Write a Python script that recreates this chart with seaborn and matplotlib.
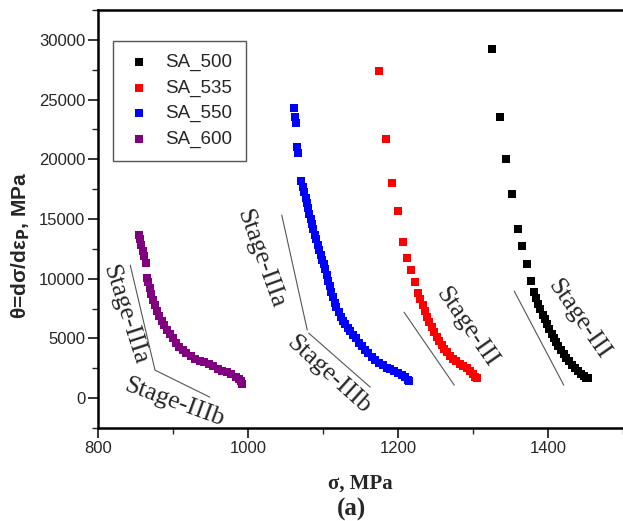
import numpy as np
import pandas as pd
import matplotlib
matplotlib.use("Agg")
import matplotlib.pyplot as plt
from matplotlib.ticker import MultipleLocator
import seaborn as sns

# -----------------------------
# Data (sigma in MPa, theta in MPa)
# -----------------------------
sa500_x = [1325, 1336, 1344, 1352, 1360, 1366, 1372, 1377, 1381, 1384, 1387, 1390,
           1393, 1396, 1399, 1402, 1405, 1408, 1411, 1414, 1417, 1421, 1424, 1428,
           1432, 1436, 1440, 1444, 1448, 1451, 1453]
sa500_y = [29200, 23500, 20000, 17100, 14200, 12700, 11200, 9800, 8900, 8400, 7900, 7500,
           7000, 6600, 6200, 5800, 5400, 5000, 4700, 4350, 4000, 3700, 3400, 3100,
           2800, 2550, 2300, 2050, 1850, 1700, 1650]

sa535_x = [1175, 1184, 1192, 1200, 1207, 1212, 1218, 1223, 1227, 1230, 1233, 1236,
           1239, 1242, 1245, 1248, 1252, 1255, 1259, 1262, 1266, 1270, 1274, 1278,
           1283, 1287, 1292, 1296, 1300, 1303, 1305]
sa535_y = [27400, 21700, 18000, 15700, 13100, 11700, 10700, 9700, 8800, 8300, 7800, 7300,
           6800, 6350, 5950, 5550, 5150, 4800, 4450, 4150, 3850, 3550, 3300, 3100,
           2900, 2700, 2500, 2250, 2000, 1800, 1650]

sa550_x = [1061, 1063, 1064, 1066, 1067, 1071, 1073, 1075, 1078, 1079, 1080, 1082,
           1084, 1086, 1087, 1089, 1091, 1093, 1095, 1097, 1099, 1101, 1103, 1105,
           1107, 1109, 1111, 1113, 1116, 1118, 1121, 1124, 1127, 1130, 1133, 1136,
           1140, 1144, 1148, 1152, 1156, 1160, 1165, 1170, 1175, 1180, 1185, 1190,
           1195, 1200, 1205, 1210, 1213, 1215]
sa550_y = [24300, 23500, 23000, 21000, 20500, 18200, 17700, 17300, 16800, 16300, 15900, 15400,
           15000, 14600, 14200, 13700, 13300, 12800, 12400, 12000, 11600, 11200, 10800, 10300,
           9800, 9400, 8900, 8500, 8000, 7600, 7200, 6800, 6500, 6200, 5900, 5600,
           5300, 5000, 4650, 4350, 4050, 3750, 3450, 3200, 2950, 2750, 2550, 2400,
           2250, 2100, 1950, 1750, 1550, 1400]

sa600_x = [855, 856, 858, 860, 862, 864, 866, 867, 869, 871, 873, 876, 879, 882, 885,
           888, 892, 896, 900, 904, 908, 913, 918, 924, 930, 936, 942, 948, 954, 960,
           966, 972, 978, 984, 988, 991, 992]
sa600_y = [13700, 13300, 12800, 12300, 11900, 11300, 10100, 9700, 9200, 8700, 8200, 7800,
           7300, 6900, 6500, 6100, 5700, 5350, 5000, 4650, 4300, 4000, 3750, 3500, 3300,
           3150, 3000, 2850, 2650, 2450, 2300, 2150, 2000, 1800, 1600, 1400, 1200]

series_names = ["SA_500", "SA_535", "SA_550", "SA_600"]
series_colors = ["#000000", "#ff0000", "#0000ff", "#800080"]

# stage guide lines (x list, y list) and labels (x, y, text, rotation)
guide_lines = [
    ([843, 876, 949], [11140, 2345, 84]),
    ([1045, 1079], [15330, 5700]),
    ([1081, 1163], [5440, 920]),
    ([1208, 1275], [7200, 1090]),
    ([1355, 1421], [8960, 1090]),
]
stage_labels = [
    (836, 6950, "Stage-IIIa", -72),
    (901, -350, "Stage-IIIb", -20),
    (1017, 11640, "Stage-IIIa", -70),
    (1108, 1930, "Stage-IIIb", -42),
    (1292, 5950, "Stage-III", -55),
    (1441, 6620, "Stage-III", -55),
]

# -----------------------------
# Build long table
# -----------------------------
frames = []
for name, xs, ys in zip(series_names,
                        [sa500_x, sa535_x, sa550_x, sa600_x],
                        [sa500_y, sa535_y, sa550_y, sa600_y]):
    frames.append(pd.DataFrame({"sigma": xs, "theta": ys, "sample": name}))
df = pd.concat(frames, ignore_index=True)

# -----------------------------
# Plot
# -----------------------------
sns.set_style("ticks")
plt.rcParams["font.family"] = ["Liberation Sans", "DejaVu Sans"]
serif = ["Liberation Serif", "DejaVu Serif"]

fig = plt.figure(figsize=(6.23, 5.21), dpi=100)
ax = fig.add_axes([0.1573, 0.1785, 0.8427, 0.8023])

for name, color in zip(series_names, series_colors):
    sub = df[df["sample"] == name]
    sns.scatterplot(data=sub, x="sigma", y="theta", color=color, marker="s",
                    s=40, linewidth=0, label=name, ax=ax)

for xs, ys in guide_lines:
    ax.plot(xs, ys, color="#555555", lw=0.8)

for x, y, txt, rot in stage_labels:
    ax.text(x, y, txt, rotation=rot, rotation_mode="anchor", ha="center", va="center",
            fontsize=18.5, family=serif)

ax.set_xlim(800, 1500)
ax.set_ylim(-2500, 32500)
ax.xaxis.set_major_locator(MultipleLocator(200))
ax.xaxis.set_minor_locator(MultipleLocator(100))
ax.yaxis.set_major_locator(MultipleLocator(5000))
ax.yaxis.set_minor_locator(MultipleLocator(2500))
ax.tick_params(which="major", direction="out", length=7, width=1.3, labelsize=12, pad=2)
ax.tick_params(which="minor", direction="out", length=4, width=1.0)

for side in ["left", "bottom", "top"]:
    ax.spines[side].set_visible(True)
    ax.spines[side].set_linewidth(1.8)
    ax.spines[side].set_color("black")
ax.spines["right"].set_visible(False)

ax.set_xlabel("")
ax.set_ylabel("")
fig.text(0.578, 1 - 484 / 521, "σ, MPa", fontsize=15, fontweight="bold",
         ha="center", va="center", family=serif)
fig.text(0.034, 1 - 245 / 521, "θ=dσ/dε$_\\mathbf{P}$, MPa", fontsize=15,
         fontweight="bold", rotation=90, ha="center", va="center")
fig.text(0.564, 1 - 509 / 521, "(a)", fontsize=18, fontweight="bold",
         ha="center", va="center", family=serif)

ax.legend(loc="upper left", bbox_to_anchor=(0.0286, 0.926), borderaxespad=0,
          fontsize=13.5, frameon=True, fancybox=False, edgecolor="#555555",
          framealpha=1, labelspacing=0.44, handlelength=1.4, handletextpad=0.7,
          borderpad=0.7, markerscale=1.0)
ax.get_legend().get_frame().set_linewidth(1.0)

plt.savefig("out.png", dpi=100)
plt.close()
